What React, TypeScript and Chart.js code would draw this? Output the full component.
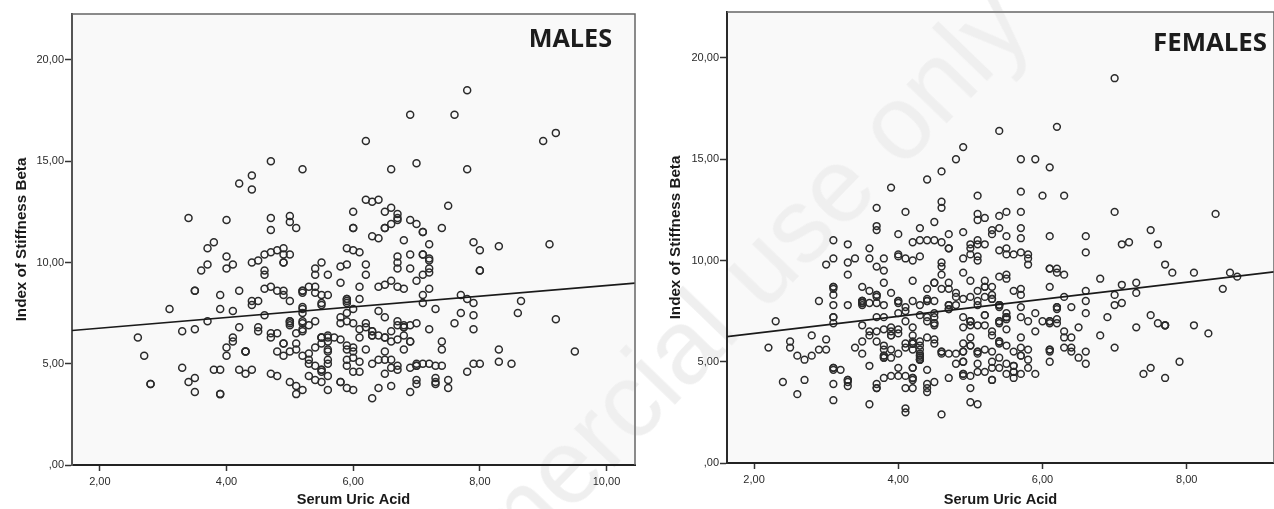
import React, { useEffect, useRef } from "react";
import { Chart, registerables } from "chart.js";

Chart.register(...registerables);

type P = [number, number];

const xTicksStep = 2;
const yTicksStep = 5;

const maleLine: P[] = [[1.56, 6.64], [10.45, 8.98]];
const femaleLine: P[] = [[1.625, 6.24], [9.21, 9.44]];

const malePoints: P[] = [
  [3.4,12.2],[4.0,12.1],[3.8,11.0],[3.7,10.7],[4.0,10.3],[4.2,13.9],[4.4,14.3],[4.4,13.6],[4.7,15.0],[5.2,14.6],
  [4.7,12.2],[5.0,12.3],[5.0,12.0],[5.1,11.7],[4.7,11.6],[4.9,10.7],[4.8,10.6],[4.7,10.5],[4.6,10.4],[4.5,10.1],
  [4.4,10.0],[4.9,10.4],[5.0,10.4],[4.9,10.0],[4.9,10.0],[3.7,9.9],[3.6,9.6],[4.1,9.9],[4.0,9.7],[4.6,9.6],[4.6,9.4],
  [5.4,9.7],[5.4,9.4],[5.5,10.0],[5.6,9.4],[5.8,9.8],[5.8,9.0],[3.5,8.6],[3.5,8.6],[3.9,8.4],[4.2,8.6],[4.6,8.7],
  [4.7,8.8],[4.8,8.6],[4.9,8.6],[4.9,8.4],[5.0,8.1],[5.2,8.6],[5.2,8.6],[5.2,8.5],[5.3,8.8],[5.4,8.8],[5.4,8.5],
  [5.5,8.4],[5.6,8.4],[4.4,8.1],[4.4,7.9],[4.5,8.1],[5.5,8.0],[5.5,7.9],[5.2,7.8],[5.2,7.7],[5.2,7.5],[3.1,7.7],
  [3.9,7.7],[4.1,7.6],[4.6,7.4],[3.7,7.1],[5.0,7.1],[5.0,7.1],[5.0,7.0],[5.0,6.9],[5.2,7.1],[5.2,7.0],[5.3,6.9],
  [5.4,7.1],[5.8,7.3],[5.8,7.0],[4.2,6.8],[3.5,6.7],[3.3,6.6],[4.5,6.8],[4.5,6.6],[5.2,6.7],[5.2,6.6],[5.1,6.5],
  [4.8,6.5],[4.7,6.5],[4.7,6.3],[4.1,6.3],[4.1,6.1],[2.6,6.3],[2.7,5.4],[2.8,4.0],[2.8,4.0],[5.5,6.3],[5.5,6.3],[5.5,6.3],
  [5.6,6.3],[5.6,6.4],[5.7,6.3],[5.8,6.2],[5.5,6.0],[5.6,6.1],[5.1,6.0],[4.9,6.0],[4.9,6.0],[4.0,5.8],[4.0,5.4],
  [4.3,5.6],[4.3,5.6],[4.3,5.6],[4.8,5.6],[4.9,5.4],[5.0,5.6],[5.1,5.7],[5.2,5.4],[5.3,5.5],[5.3,5.2],[5.3,5.0],
  [5.4,5.8],[5.4,4.9],[5.6,5.7],[5.6,5.6],[5.6,5.2],[5.6,5.0],[3.3,4.8],[3.8,4.7],[3.9,4.7],[4.2,4.7],[4.3,4.5],
  [4.4,4.7],[4.7,4.5],[4.8,4.4],[5.5,4.7],[5.5,4.7],[5.5,4.6],[5.6,4.4],[5.3,4.4],[5.4,4.2],[5.5,4.1],[3.5,4.3],
  [3.4,4.1],[3.5,3.6],[3.9,3.5],[3.9,3.5],[5.0,4.1],[5.1,3.9],[5.1,3.5],[5.2,3.7],[5.6,3.7],[5.8,4.1],
  [7.8,18.5],[6.9,17.3],[7.6,17.3],[9.2,16.4],[9.0,16.0],[6.2,16.0],[7.0,14.9],[6.6,14.6],[7.8,14.6],[6.2,13.1],
  [6.3,13.0],[6.4,13.1],[7.5,12.8],[6.0,12.5],[6.5,12.5],[6.6,12.7],[6.7,12.4],[6.7,12.2],[6.7,12.1],[6.9,12.1],
  [7.0,11.9],[7.1,11.5],[7.1,11.5],[7.4,11.7],[6.0,11.7],[6.0,11.7],[6.5,11.7],[6.5,11.7],[6.6,11.9],[6.3,11.3],
  [6.4,11.2],[6.8,11.1],[7.2,10.9],[7.9,11.0],[8.0,10.6],[8.3,10.8],[9.1,10.9],[5.9,10.7],[6.0,10.6],[6.1,10.5],
  [6.7,10.3],[6.9,10.4],[7.1,10.4],[7.1,10.4],[7.2,10.2],[6.7,10.0],[6.7,9.7],[6.9,9.7],[7.2,10.1],[7.2,9.7],[7.2,9.5],
  [7.1,9.4],[7.0,9.1],[8.0,9.6],[8.0,9.6],[5.9,9.9],[6.2,9.9],[6.2,9.4],[6.1,8.8],[6.4,8.8],[6.5,8.9],[6.6,9.1],
  [6.7,8.8],[6.8,8.7],[7.2,8.7],[7.1,8.4],[7.7,8.4],[7.8,8.2],[7.9,8.0],[8.65,8.1],[8.6,7.5],[9.2,7.2],[9.5,5.6],
  [6.1,8.2],[5.9,8.2],[5.9,8.2],[5.9,8.1],[5.9,8.0],[7.1,8.0],[7.3,7.7],[7.7,7.5],[7.9,7.4],[7.6,7.0],[7.9,6.7],
  [6.4,7.6],[6.5,7.3],[6.0,7.7],[5.9,7.5],[5.9,7.1],[6.0,7.0],[6.2,7.0],[6.1,6.7],[6.2,6.8],[6.7,7.1],[6.7,6.9],
  [6.8,6.8],[6.8,6.8],[6.8,6.9],[6.9,6.9],[7.0,7.0],[7.2,6.7],[6.3,6.6],[6.3,6.6],[6.3,6.4],[6.3,6.4],[6.4,6.4],
  [6.5,6.3],[6.5,6.3],[6.6,6.6],[6.6,6.1],[6.7,6.2],[6.8,6.4],[6.9,6.1],[6.9,6.1],[6.1,6.3],[7.4,6.1],[7.4,5.7],
  [5.9,5.9],[6.0,5.8],[5.9,5.7],[6.0,5.6],[6.2,5.7],[6.0,5.3],[5.9,5.2],[5.9,4.9],[6.5,5.6],[6.8,5.7],[6.4,5.2],
  [6.5,5.2],[6.6,5.2],[6.1,5.1],[6.3,5.0],[6.7,4.9],[6.6,4.8],[6.7,4.7],[6.9,4.8],[7.0,4.9],[7.0,4.9],[7.0,5.0],
  [7.1,5.0],[7.2,5.0],[7.3,4.9],[7.4,4.9],[7.9,5.0],[8.0,5.0],[8.3,5.1],[8.3,5.7],[8.5,5.0],[7.8,4.6],[6.0,4.6],
  [6.1,4.6],[6.5,4.5],[7.0,4.2],[7.0,4.0],[7.3,4.3],[7.3,4.1],[7.3,4.0],[7.5,4.2],[7.5,3.8],[5.8,4.1],[5.9,3.8],
  [6.0,3.7],[6.6,3.9],[6.4,3.8],[6.9,3.6],[6.3,3.3],
];

const femalePoints: P[] = [
  [4.9,15.6],[4.8,15.0],[4.6,14.4],[4.4,14.0],[3.9,13.6],[4.6,12.9],[4.6,12.6],[3.7,12.6],[4.1,12.4],[4.5,11.9],
  [3.7,11.7],[3.7,11.5],[4.3,11.6],[4.9,11.4],[4.0,11.3],[4.7,11.3],[3.1,11.0],[3.3,10.8],[3.6,10.6],[4.2,10.9],
  [4.3,11.0],[4.4,11.0],[4.5,11.0],[4.6,10.9],[4.7,10.6],[4.7,10.6],[5.0,10.8],[5.0,10.6],[3.1,10.1],[3.4,10.1],
  [3.6,10.1],[3.8,10.1],[4.0,10.3],[4.0,10.2],[4.1,10.1],[4.2,10.0],[4.3,10.2],[4.9,10.1],[3.0,9.8],[3.3,9.9],
  [3.7,9.7],[3.8,9.5],[4.6,9.9],[4.6,9.7],[4.6,9.3],[4.9,9.4],[3.3,9.3],[3.8,8.9],[4.2,9.0],[4.5,8.9],[4.5,8.9],
  [4.7,8.9],[5.0,9.0],[3.1,8.7],[3.1,8.7],[3.1,8.6],[3.1,8.3],[3.5,8.7],[3.6,8.5],[3.7,8.3],[3.7,8.3],[3.7,8.2],
  [3.9,8.4],[4.4,8.6],[4.6,8.6],[4.7,8.6],[4.8,8.4],[4.8,8.2],[4.9,8.1],[5.0,8.2],[2.9,8.0],[3.1,7.8],[3.3,7.8],
  [3.5,8.0],[3.5,8.0],[3.5,8.0],[3.5,7.9],[3.5,7.9],[3.5,7.8],[3.6,7.9],[3.7,7.9],[3.8,7.8],[4.0,8.0],[4.0,8.0],
  [4.0,7.9],[4.1,7.7],[4.1,7.5],[4.2,8.0],[4.3,7.8],[4.4,8.0],[4.4,8.0],[4.4,8.1],[4.5,8.0],[4.7,7.8],[4.7,7.8],
  [4.7,7.6],[4.7,7.6],[4.8,7.8],[4.0,7.4],[4.3,7.3],[4.5,7.4],[4.4,7.2],[4.5,7.2],[4.4,7.0],[4.5,6.9],[4.5,6.9],
  [4.5,6.8],[3.1,7.2],[3.1,7.2],[3.1,6.9],[3.7,7.2],[3.8,7.2],[4.1,7.0],[4.9,7.2],[5.0,7.0],[5.0,6.8],[4.9,6.7],
  [2.3,7.0],[3.5,6.8],[3.6,6.5],[3.6,6.3],[3.7,6.5],[3.8,6.6],[3.9,6.7],[3.9,6.5],[3.9,6.3],[3.9,6.3],[4.0,6.6],
  [4.0,6.4],[4.2,6.7],[4.2,6.3],[2.8,6.3],[3.0,6.1],[2.5,6.0],[2.5,5.7],[2.2,5.7],[2.6,5.3],[2.7,5.1],[2.8,5.3],
  [2.9,5.6],[3.0,5.6],[3.4,5.7],[3.5,6.0],[3.5,5.4],[3.7,6.0],[3.6,4.8],[3.8,5.8],[3.8,5.6],[3.9,5.6],[4.0,5.4],
  [3.8,5.3],[3.8,5.3],[3.8,5.2],[3.8,5.2],[3.9,5.2],[4.1,5.9],[4.1,5.7],[4.2,5.9],[4.2,5.9],[4.2,5.9],[4.2,6.0],
  [4.3,6.0],[4.3,5.8],[4.2,5.6],[4.3,5.6],[4.3,5.4],[4.3,5.3],[4.3,5.3],[4.3,5.1],[4.3,5.1],[4.3,5.1],[4.3,5.2],
  [4.4,6.2],[4.5,6.1],[4.5,5.9],[4.6,5.5],[4.6,5.5],[4.6,5.4],[4.7,5.4],[4.8,5.4],[4.9,5.5],[4.9,5.9],[5.0,6.2],
  [5.0,5.8],[4.8,4.9],[4.9,5.0],[4.9,5.0],[3.1,4.7],[3.1,4.7],[3.1,4.6],[3.2,4.6],[3.1,3.9],[3.3,4.1],[3.3,4.1],
  [3.3,4.0],[3.3,3.8],[2.4,4.0],[2.7,4.1],[2.6,3.4],[3.1,3.1],[3.6,2.9],[3.7,3.9],[3.7,3.7],[3.7,3.7],[3.8,4.2],
  [3.9,4.3],[4.0,4.3],[4.0,4.7],[4.1,4.3],[4.2,4.7],[4.2,4.7],[4.2,4.2],[4.2,4.2],[4.2,4.1],[4.2,3.7],[4.1,3.7],
  [4.4,4.6],[4.5,4.0],[4.4,3.9],[4.4,3.7],[4.4,3.5],[4.7,4.2],[4.9,4.4],[4.9,4.4],[4.9,4.3],[5.0,4.3],[5.0,3.7],
  [5.0,3.0],[4.1,2.7],[4.1,2.5],[4.6,2.4],
  [7.0,19.0],[6.2,16.6],[5.4,16.4],[5.7,15.0],[5.9,15.0],[6.1,14.6],[5.1,13.2],[5.7,13.4],[6.0,13.2],[6.3,13.2],
  [7.0,12.4],[8.4,12.3],[5.1,12.3],[5.1,12.0],[5.2,12.1],[5.4,12.2],[5.5,12.4],[5.7,12.4],[5.3,11.5],[5.3,11.3],
  [5.4,11.6],[5.5,11.2],[5.7,11.6],[5.7,11.1],[6.1,11.2],[6.6,11.2],[6.6,10.4],[7.5,11.5],[7.6,10.8],[7.1,10.8],
  [7.2,10.9],[5.1,11.0],[5.1,10.8],[5.2,10.8],[5.0,10.3],[5.1,10.2],[5.4,10.5],[5.5,10.6],[5.5,10.3],[5.6,10.3],
  [5.7,10.4],[5.8,10.3],[5.8,10.1],[5.1,10.0],[5.8,9.8],[5.2,9.0],[5.2,8.7],[5.2,8.7],[5.3,8.7],[5.4,9.2],[5.5,9.3],
  [5.5,9.1],[6.1,9.6],[6.1,9.6],[6.2,9.6],[6.2,9.4],[6.3,9.3],[7.7,9.8],[7.8,9.4],[8.1,9.4],[8.6,9.4],[8.7,9.2],
  [8.5,8.6],[6.8,9.1],[7.1,8.8],[7.3,8.9],[7.3,8.4],[7.0,8.3],[7.0,7.8],[7.1,7.9],[6.1,8.7],[5.6,8.5],[5.7,8.6],
  [5.7,8.3],[6.6,8.5],[6.6,8.0],[6.3,8.2],[5.1,8.5],[5.1,8.0],[5.1,7.8],[5.2,8.2],[5.3,8.3],[5.3,8.1],[5.3,8.1],
  [5.4,7.8],[5.4,7.8],[5.4,7.8],[5.4,7.7],[5.7,7.7],[6.2,7.7],[6.2,7.7],[6.2,7.6],[6.4,7.7],[6.6,7.4],[5.9,7.4],
  [5.5,7.4],[5.5,7.2],[5.5,7.2],[5.5,7.2],[5.5,7.1],[5.2,7.3],[5.2,7.3],[5.7,7.2],[5.8,7.0],[6.0,7.0],[6.1,7.0],
  [6.1,7.0],[6.1,6.9],[6.2,7.1],[6.2,6.9],[6.9,7.2],[7.5,7.3],[7.6,6.9],[7.7,6.8],[7.7,6.8],[7.7,6.8],[8.1,6.8],
  [8.3,6.4],[7.3,6.7],[5.0,7.0],[5.0,7.0],[5.1,6.8],[5.2,6.8],[5.4,7.0],[5.4,7.0],[5.4,6.9],[5.5,6.6],[5.3,6.5],
  [5.3,6.3],[5.9,6.5],[6.3,6.5],[6.5,6.7],[6.3,6.2],[6.4,6.2],[6.8,6.3],[4.9,5.5],[5.1,5.5],[5.1,5.5],[5.1,5.4],
  [5.2,5.6],[5.3,5.5],[5.4,6.0],[5.4,6.0],[5.4,5.9],[5.5,5.8],[5.7,6.2],[5.6,5.5],[5.7,5.7],[5.8,5.6],[5.7,5.3],
  [5.7,5.3],[5.8,5.1],[5.4,5.2],[5.3,5.0],[6.1,5.6],[6.1,5.6],[6.1,5.5],[6.1,5.0],[6.3,5.7],[6.4,5.7],[6.4,5.5],
  [6.5,5.2],[6.6,5.5],[6.6,4.9],[7.0,5.7],[5.1,4.9],[5.1,4.5],[5.2,4.5],[5.3,4.7],[5.4,4.7],[5.5,4.9],[5.6,4.8],
  [5.6,4.8],[5.6,4.5],[5.6,4.5],[5.5,4.4],[5.6,4.2],[5.7,4.4],[5.8,4.7],[5.9,4.4],[5.3,4.1],[5.3,4.1],[5.1,2.9],
  [7.5,4.7],[7.4,4.4],[7.7,4.2],[7.9,5.0],[5.0,5.8],
];

const fmt = (v: number) => (v === 0 ? ",00" : v.toFixed(2).replace(".", ","));

const FONT = "'Liberation Sans', Arial, sans-serif";
const INK = "#2a2a2a";

type PanelProps = {
  name: string;
  points: P[];
  line: P[];
  xMin: number;
  xMax: number;
  yMax: number;
  width: number;
  left: number;
  areaLeft: number;
  areaTop: number;
  areaBottom: number;
  rightPad: number;
  labelInset: number;
  labelDrop: number;
  radius: number;
  titleFontSize: number;
  yTitlePad: number;
  axisColor: string;
};

function Panel(p: PanelProps) {
  const ref = useRef<HTMLCanvasElement>(null);
  useEffect(() => {
    if (!ref.current) return;
    const decor = {
      id: "decor",
      beforeDraw(chart: any) {
        const { ctx, chartArea: a } = chart;
        ctx.save();
        ctx.fillStyle = "#f9f9f9";
        ctx.fillRect(a.left, a.top, a.right - a.left, a.bottom - a.top);
        ctx.restore();
      },
      afterDraw(chart: any) {
        const { ctx, chartArea: a } = chart;
        ctx.save();
        ctx.strokeStyle = "#666666";
        ctx.lineWidth = 1.5;
        ctx.beginPath();
        ctx.moveTo(a.left, a.top);
        ctx.lineTo(a.right, a.top);
        ctx.lineTo(a.right, a.bottom);
        ctx.stroke();
        ctx.fillStyle = "#1c1c1c";
        ctx.font = `bold ${p.titleFontSize}px 'Open Sans', sans-serif`;
        ctx.textAlign = "right";
        ctx.textBaseline = "alphabetic";
        ctx.fillText(p.name, a.right - p.labelInset, a.top + p.labelDrop);
        ctx.restore();
      },
    };
    const chart = new Chart(ref.current, {
      type: "scatter",
      data: {
        datasets: [
          {
            data: p.line.map(([x, y]) => ({ x, y })),
            showLine: true,
            pointRadius: 0,
            borderColor: "#1a1a1a",
            borderWidth: 1.6,
            order: 1,
          },
          {
            data: p.points.map(([x, y]) => ({ x, y })),
            pointRadius: p.radius,
            pointBorderWidth: 1.5,
            pointBorderColor: "#2b2b2b",
            pointBackgroundColor: "rgba(0,0,0,0)",
            order: 2,
          },
        ],
      },
      options: {
        responsive: false,
        animation: false,
        events: [],
        layout: { autoPadding: false, padding: { left: 0, top: p.areaTop, right: p.rightPad, bottom: 0 } },
        plugins: { legend: { display: false }, tooltip: { enabled: false } },
        scales: {
          x: {
            type: "linear",
            min: p.xMin,
            max: p.xMax,
            afterFit(s: any) {
              s.height = 509 - p.areaBottom;
            },
            border: { color: "#222222", width: 2 },
            grid: { drawOnChartArea: false, drawTicks: true, tickLength: 6, tickColor: "#333333", tickWidth: 1.5 },
            ticks: {
              stepSize: xTicksStep,
              includeBounds: false,
              autoSkip: false,
              maxRotation: 0,
              padding: 4,
              color: INK,
              font: { family: FONT, size: 11 },
              callback: (v: any) => fmt(Number(v)),
            },
            title: {
              display: true,
              text: "Serum Uric Acid",
              color: "#1a1a1a",
              font: { family: FONT, size: 14.6, weight: "bold" },
              padding: { top: -2, bottom: 0 },
            },
          },
          y: {
            type: "linear",
            min: 0,
            max: p.yMax,
            afterFit(s: any) {
              s.width = p.areaLeft;
            },
            border: { color: p.axisColor, width: 2 },
            grid: { drawOnChartArea: false, drawTicks: true, tickLength: 7, tickColor: "#333333", tickWidth: 1.5 },
            ticks: {
              stepSize: yTicksStep,
              includeBounds: false,
              autoSkip: false,
              padding: 1,
              color: INK,
              font: { family: FONT, size: 11 },
              callback: (v: any) => fmt(Number(v)),
            },
            title: {
              display: true,
              text: "Index of Stiffness Beta",
              color: "#1a1a1a",
              font: { family: FONT, size: 15.2, weight: "bold" },
              padding: { top: p.yTitlePad, bottom: 0 },
            },
          },
        },
      } as any,
      plugins: [decor],
    });
    return () => chart.destroy();
  }, []);
  return (
    <canvas
      ref={ref}
      width={p.width}
      height={509}
      style={{ position: "absolute", left: p.left, top: 0, width: p.width, height: 509, filter: "blur(0.35px)" }}
    />
  );
}

export default function App() {
  return (
    <div style={{ position: "absolute", left: 0, top: 0, width: 1274, height: 509, overflow: "hidden", background: "#fff" }}>
      <Panel
        name="MALES"
        points={malePoints}
        line={maleLine}
        xMin={1.56}
        xMax={10.45}
        yMax={22.27}
        width={660}
        left={0}
        areaLeft={72}
        areaTop={14}
        areaBottom={465}
        rightPad={25}
        labelInset={23}
        labelDrop={33}
        radius={3.5}
        titleFontSize={25.2}
        yTitlePad={12.5}
        axisColor="#555555"
      />
      <Panel
        name="FEMALES"
        points={femalePoints}
        line={femaleLine}
        xMin={1.625}
        xMax={9.21}
        yMax={22.27}
        width={614}
        left={660}
        areaLeft={67}
        areaTop={12}
        areaBottom={463}
        rightPad={0}
        labelInset={7}
        labelDrop={39}
        radius={3.4}
        titleFontSize={25.8}
        yTitlePad={6.5}
        axisColor="#2a2a2a"
      />
      <div
        style={{
          position: "absolute",
          left: 971,
          top: -30,
          whiteSpace: "nowrap",
          font: "105px 'Liberation Sans', Arial, sans-serif",
          lineHeight: "105px",
          color: "#efefef",
          mixBlendMode: "darken",
          transform: "rotate(-46deg) translateX(-100%)",
          transformOrigin: "0 0",
          pointerEvents: "none",
        }}
      >
        Non-commercial use only
      </div>
    </div>
  );
}
